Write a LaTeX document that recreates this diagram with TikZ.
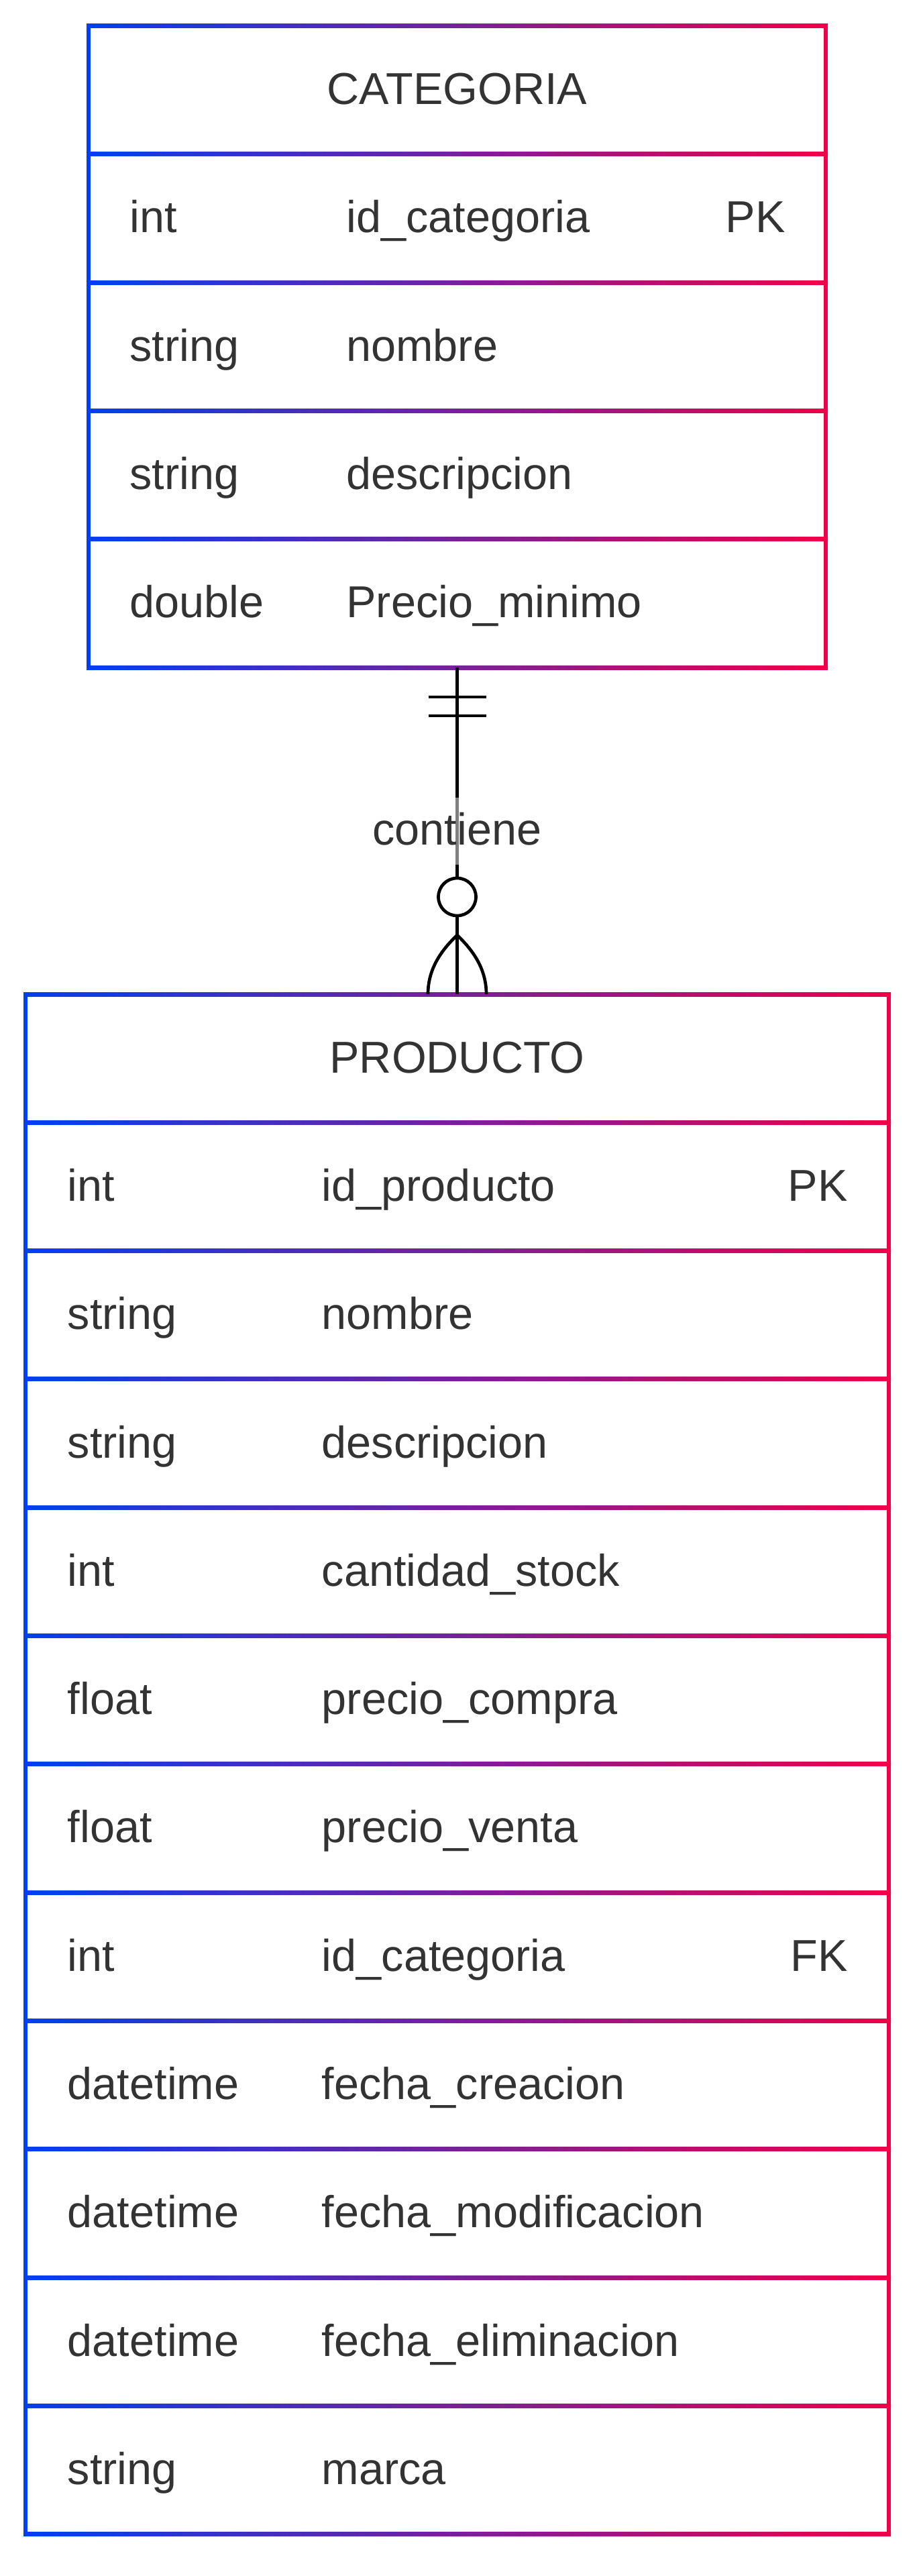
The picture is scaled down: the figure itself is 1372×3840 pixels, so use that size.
\documentclass[tikz,border=0pt]{standalone}
\usepackage{fontspec}
\setmainfont{Liberation Sans}
\definecolor{erblue}{RGB}{0,64,240}
\definecolor{erred}{RGB}{240,0,72}
\definecolor{ertext}{HTML}{333333}
\newcommand\ergradline[3]{\shade[left color=erblue,right color=erred] (#1,#3-3) rectangle (#2,#3+3);}
\begin{document}
\begin{tikzpicture}[x=0.5pt,y=-0.5pt,
  txt/.style={font=\fontsize{33.3pt}{40pt}\selectfont, text=ertext, inner sep=0pt},
  conn/.style={draw=black, line width=2.35pt},
  entity/.style={inner sep=0pt, draw=none}]
\useasboundingbox (0,0) rectangle (1372,3840);

% ---------- entity frames (named) ----------
\node[entity, minimum width=549.5pt, minimum height=478.25pt] (cat) at (681.5,516.75) {};
\node[entity, minimum width=643.5pt, minimum height=1147.8pt] (prod) at (681.5,2629.8) {};

% ---------- CATEGORIA lines ----------
\foreach \i in {0,...,5} {
  \pgfmathsetmacro\yy{38.5+191.3*\i}
  \ergradline{129}{1234}{\yy}
}
\fill[erblue] (129,35.5) rectangle (135,998);
\fill[erred] (1228,35.5) rectangle (1234,998);

% ---------- PRODUCTO lines ----------
\foreach \i in {0,...,12} {
  \pgfmathsetmacro\yy{1482+191.3*\i}
  \ergradline{35}{1328}{\yy}
}
\fill[erblue] (35,1479) rectangle (41,3780.6);
\fill[erred] (1322,1479) rectangle (1328,3780.6);

% ---------- CATEGORIA texts ----------
\node[txt, anchor=base] (catname) at (681.5,155.7) {CATEGORIA};
\foreach \t/\n/\k [count=\i] in {int/id\_categoria/PK, string/nombre/, string/descripcion/, double/Precio\_minimo/} {
  \pgfmathsetmacro\yy{38.5+191.3*(\i+0.5)+21.5}
  \node[txt, anchor=base west] (cattype\i) at (193,\yy) {\t};
  \node[txt, anchor=base west] (catattr\i) at (516,\yy) {\n};
  \node[txt, anchor=base east] (catkey\i) at (1171,\yy) {\k};
}

% ---------- PRODUCTO texts ----------
\node[txt, anchor=base] (prodname) at (681.5,1599) {PRODUCTO};
\foreach \t/\n/\k [count=\i] in {int/id\_producto/PK, string/nombre/, string/descripcion/, int/cantidad\_stock/, float/precio\_compra/, float/precio\_venta/, int/id\_categoria/FK, datetime/fecha\_creacion/, datetime/fecha\_modificacion/, datetime/fecha\_eliminacion/, string/marca/} {
  \pgfmathsetmacro\yy{1482+191.3*(\i+0.5)+21.5}
  \node[txt, anchor=base west] (prodtype\i) at (100.5,\yy) {\t};
  \node[txt, anchor=base west] (prodattr\i) at (479.5,\yy) {\n};
  \node[txt, anchor=base east] (prodkey\i) at (1264,\yy) {\k};
}

% ---------- relationship ----------
\node[circle, conn, minimum size=28pt, inner sep=0pt] (zero) at (681.5,1337) {};
\coordinate (crow) at (681.5,1394);
\coordinate (footl) at (638,1482);
\coordinate (footr) at (725,1482);
\draw[conn] (cat.south) -- (zero.north);
\draw[conn] (zero.south) -- (prod.north);
% exactly-one bars
\draw[conn] (638.5,1039) -- (724.5,1039);
\draw[conn] (638.5,1067) -- (724.5,1067);
% crow's foot
\draw[conn] (crow) .. controls (652,1422) and (638,1450) .. (footl);
\draw[conn] (crow) .. controls (711,1422) and (725,1450) .. (footr);
% label
\node[txt, anchor=base, fill=white, fill opacity=0.5, text opacity=1,
      text height=35pt, text depth=15pt, inner xsep=4pt] (rel) at (681.5,1259) {contiene};
\end{tikzpicture}
\end{document}
